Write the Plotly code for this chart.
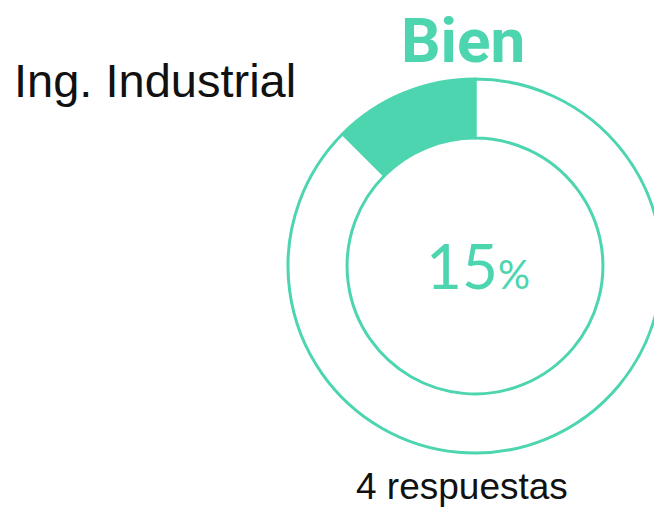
import plotly.graph_objects as go

labels = ["Resto", "Bien"]
values = [87.5, 12.5]
pct_label = "15"
title_text = "Bien"
career = "Ing. Industrial"
responses = "4 respuestas"

TEAL = "#4dd5b0"
# page body has an 8px default margin; figure fills the rest of the window
OFF = 8
W, H = 662 - OFF, 508 - OFF

def px(x):
    return (x - OFF) / W

def py(y):
    return 1 - (y - OFF) / H

cx, cy, r = 475, 266, 187

fig = go.Figure(go.Pie(
    labels=labels,
    values=values,
    hole=0.684,
    sort=False,
    direction="clockwise",
    rotation=0,
    textinfo="none",
    hoverinfo="label+percent",
    marker=dict(colors=["rgba(255,255,255,0)", TEAL], line=dict(color=TEAL, width=3)),
    domain=dict(x=[px(cx - r), 1.0], y=[py(cy + r), py(cy - r)]),
    showlegend=False,
))

fig.add_annotation(x=px(463.5), y=py(40), xref="paper", yref="paper",
                   text="<b>" + title_text + "</b>", showarrow=False,
                   xanchor="center", yanchor="middle",
                   font=dict(family="Roboto", size=62, color=TEAL))
fig.add_annotation(x=px(12), y=py(80), xref="paper", yref="paper",
                   text=career, showarrow=False, xanchor="left", yanchor="middle",
                   font=dict(family="Liberation Sans, Arial", size=47, color="#111111"))
fig.add_annotation(x=px(478), y=py(265), xref="paper", yref="paper",
                   text=pct_label + "<span style='font-size:40px'>%</span>", showarrow=False,
                   xanchor="center", yanchor="middle",
                   font=dict(family="Lato", size=62, color=TEAL))
fig.add_annotation(x=px(461.5), y=py(486), xref="paper", yref="paper",
                   text=responses, showarrow=False, xanchor="center", yanchor="middle",
                   font=dict(family="Liberation Sans, Arial", size=37, color="#111111"))

fig.update_layout(width=W, height=H, margin=dict(l=0, r=0, t=0, b=0),
                  paper_bgcolor="white", plot_bgcolor="white")

fig.write_html("out.html")
